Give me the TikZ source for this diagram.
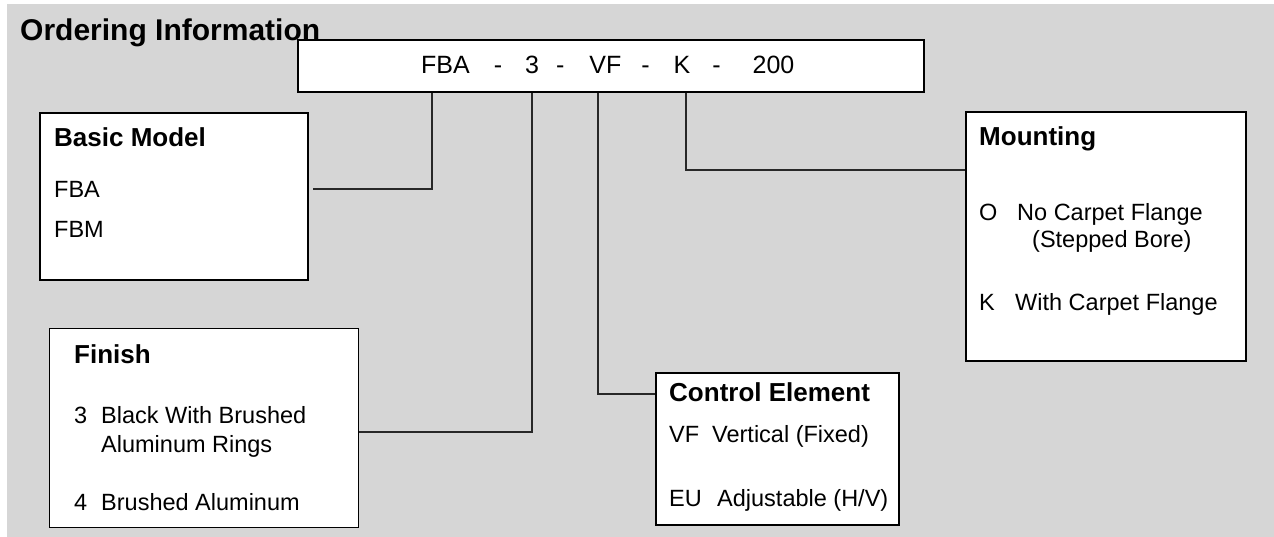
\documentclass[tikz,border=0pt]{standalone}
\usepackage{fontspec}
\setmainfont{Liberation Sans}
\definecolor{bg}{RGB}{214,214,214}
\definecolor{ln}{RGB}{40,40,40}
\tikzset{
  box/.style={draw=black, line width=2pt, fill=white, anchor=north west, inner sep=0pt},
  thinbox/.style={draw=black, line width=1.1pt, fill=white, anchor=north west, inner sep=0pt},
  conn/.style={draw=ln, line width=1.3pt},
  hd/.style={anchor=base west, inner sep=0pt, font=\fontsize{26}{30}\selectfont\bfseries},
  it/.style={anchor=base west, inner sep=0pt, font=\fontsize{23.5}{28}\selectfont},
  ttl/.style={anchor=base west, inner sep=0pt, font=\fontsize{30}{36}\selectfont\bfseries},
}
\begin{document}
\begin{tikzpicture}[x=1pt,y=-1pt]
\useasboundingbox (0,0) rectangle (1274,537);
\fill[bg] (7,4) rectangle (1274,537);
% title
\node[ttl] (title) at (20,41) {Ordering Information};
% top code box
\node[box, minimum width=626pt, minimum height=52pt] (top) at (297,39) {};
\node[anchor=base west, inner sep=0pt, font=\fontsize{25}{30}\selectfont] (code) at (421,74)
  {FBA\hspace{24pt}-\hspace{23pt}3\hspace{17pt}-\hspace{25pt}VF\hspace{20pt}-\hspace{24pt}K\hspace{22pt}-\hspace{32pt}200};
% boxes
\node[box, minimum width=268pt, minimum height=167pt] (basic) at (39,112) {};
\node[thinbox, minimum width=309pt, minimum height=199pt] (finish) at (49,328) {};
\node[box, minimum width=243pt, minimum height=152pt] (ctrl) at (655,372) {};
\node[box, minimum width=280pt, minimum height=249pt] (mount) at (965,111) {};
% connector coordinates
\coordinate (kA) at (432,189);
\coordinate (kB) at (532,432);
\coordinate (kC) at (598,394);
\coordinate (kD) at (686,170);
\draw[conn] (top.south -| kA) |- ([xshift=4pt]basic.east |- kA);
\draw[conn] (top.south -| kB) |- (finish.east |- kB);
\draw[conn] (top.south -| kC) |- (ctrl.west |- kC);
\draw[conn] (top.south -| kD) |- (mount.west |- kD);
% basic model
\node[hd] (bmh) at (54,147) {Basic Model};
\node[it] (bm1) at (54,198) {FBA};
\node[it] (bm2) at (54,238) {FBM};
% finish
\node[hd] (fih) at (74,363) {Finish};
\node[it] (fi1a) at (74,423) {3};
\node[it] (fi1b) at (101,423) {Black With Brushed};
\node[it] (fi1c) at (101,452) {Aluminum Rings};
\node[it] (fi2a) at (74,510) {4};
\node[it] (fi2b) at (101,510) {Brushed Aluminum};
% control element
\node[hd] (ceh) at (669,401) {Control Element};
\node[it] (ce1a) at (669,442) {VF};
\node[it] (ce1b) at (712,442) {Vertical (Fixed)};
\node[it] (ce2a) at (669,506) {EU};
\node[it] (ce2b) at (717,506) {Adjustable (H/V)};
% mounting
\node[hd] (moh) at (979,146) {Mounting};
\node[it] (mo1a) at (979,221) {O};
\node[it] (mo1b) at (1017,221) {No Carpet Flange};
\node[it] (mo1c) at (1032,248) {(Stepped Bore)};
\node[it] (mo2a) at (979,311) {K};
\node[it] (mo2b) at (1015,311) {With Carpet Flange};
\end{tikzpicture}
\end{document}
